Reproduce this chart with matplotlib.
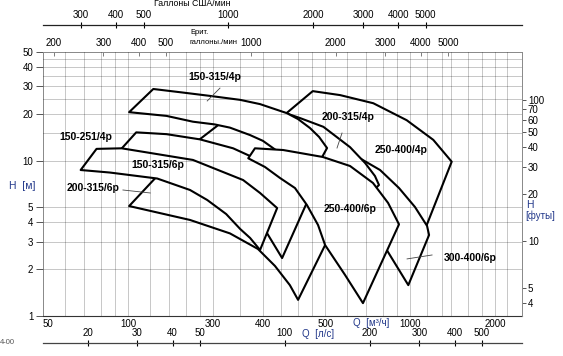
import matplotlib
matplotlib.use('Agg')
import matplotlib.pyplot as plt
from matplotlib.patches import Polygon
from matplotlib.ticker import NullLocator
import numpy as np

plt.rcParams['font.family'] = ['Liberation Sans', 'DejaVu Sans']

# ---------------------------------------------------------------
# Pump fields, Q [m3/h] and H [m] outlines (listed back to front)
# ---------------------------------------------------------------
q_250_400_4p = [452, 565, 741, 973, 1209, 1405, 1146, 1041, 783, 565, 407, 332]
h_250_400_4p = [28.0, 26.4, 23.4, 18.2, 13.6, 9.84, 3.85, 2.66, 5.58, 10.1, 14.6, 17.5]

q_300_400_6p = [588, 649, 783, 914, 1041, 1149, 1168, 986, 827, 751, 665, 565, 520]
h_300_400_6p = [11.2, 10.6, 8.70, 6.66, 5.03, 3.80, 3.32, 1.58, 2.66, 3.47, 4.47, 6.0, 9.37]

q_200_315_4p = [260, 306, 366, 407, 493, 613, 693, 751, 776, 745, 638, 565, 407, 271, 173]
h_200_315_4p = [23.0, 21.8, 20.1, 18.8, 16.5, 12.2, 9.65, 7.96, 6.97, 6.47, 3.32, 4.47, 6.66, 10.4, 13.0]

q_200_315_6p = [131, 195, 294, 375, 480, 542, 401, 375, 332, 289, 230, 166, 101]
h_200_315_6p = [8.45, 6.97, 5.58, 6.0, 5.18, 3.85, 1.27, 1.58, 2.10, 2.70, 3.40, 4.15, 5.10]

q_150_251_4p = [107, 137, 180, 236, 271, 319, 375, 435, 352, 311, 294, 230, 153, 89.9]
h_150_251_4p = [15.2, 14.8, 13.7, 12.0, 10.7, 9.23, 7.50, 5.58, 2.36, 3.42, 4.47, 6.97, 9.37, 10.7]

q_150_315_4p = [123, 157, 195, 250, 294, 366, 401, 442, 476, 508, 488, 442, 360, 332,
                301, 271, 230, 203, 170, 137, 101]
h_150_315_4p = [28.9, 27.4, 26.1, 24.6, 23.1, 20.2, 18.5, 16.2, 14.2, 12.05, 10.55, 8.08, 10.1, 11.8,
                13.4, 14.6, 16.3, 17.1, 17.8, 19.4, 20.5]

q_150_315_6p = [77.4, 95.0, 113, 170, 256, 294, 338, 294, 271, 250, 223, 191, 166, 127, 86.3, 68.0]
h_150_315_6p = [11.9, 12.0, 11.4, 10.1, 7.50, 6.19, 4.95, 2.66, 3.18, 3.63, 4.53, 5.58, 6.47, 7.67, 8.38, 8.70]

q_250_400_6p = [282, 355, 491, 613, 739, 836, 914, 681, 588, 500, 472, 431, 391, 346, 306, 267]
h_250_400_6p = [12.0, 11.7, 10.55, 9.23, 7.18, 5.34, 3.89, 1.21, 1.84, 2.86, 3.85, 5.18, 6.66, 7.73, 9.10, 10.35]

# labels: text, Q, H
pump_names = ['150-315/4p', '150-251/4p', '150-315/6p', '200-315/6p',
              '200-315/4p', '250-400/4p', '250-400/6p', '300-400/6p']
name_q = [203, 71, 128, 75, 603, 929, 613, 1632]
name_h = [34.5, 14.2, 9.37, 6.66, 19.1, 11.7, 4.88, 2.36]

# leader lines (from, to)
lead_q = [(212, 191), (574, 551), (1197, 976), (96, 120)]
lead_h = [(29.3, 24.2), (15.05, 12.05), (2.47, 2.33), (6.47, 6.19)]

# axis scales
q_ticks = [50, 100, 200, 300, 500, 1000, 2000]
q_tick_text = ['50', '100', '300', '400', '500', '1000', '2000']
h_ticks = [1, 2, 3, 4, 5, 10, 20, 30, 40, 50]
ft_ticks = [4, 5, 10, 20, 30, 40, 50, 60, 70, 80]
ft_tick_text = ['4', '5', '10', '20', '30', '40', '50', '60', '70', '100']
us_gpm_ticks = [300, 400, 500, 1000, 2000, 3000, 4000, 5000]
imp_gpm_ticks = [200, 300, 400, 500, 1000, 2000, 3000, 4000, 5000]
ls_ticks = [20, 30, 40, 50, 100, 200, 300, 400, 500]

grid_q = [60, 70, 80, 90, 100, 120, 140, 160, 180, 200, 250, 300, 350, 400, 450, 500,
          600, 700, 800, 900, 1000, 1150, 1300, 1400, 1600, 1800, 2000, 2200]
grid_h = [2, 3, 4, 5, 10, 15, 20, 25, 30, 35, 40, 45]

US = 4.402868    # US gpm per m3/h
IMP = 3.666154   # imp gpm per m3/h
LS = 1 / 3.6     # l/s per m3/h
FT = 3.28084     # ft per m

BLUE = '#22388a'

# ==================================================================
fig = plt.figure(figsize=(5.63, 3.56), dpi=100)
L, W = 43 / 563, 479.3 / 563
ax = fig.add_axes([L, 40 / 356, W, 264 / 356])
ax.set_xscale('log')
ax.set_yscale('log')
ax.set_xlim(50, 2500)
ax.set_ylim(1, 50)

fields = [(q_250_400_4p, h_250_400_4p), (q_300_400_6p, h_300_400_6p),
          (q_200_315_4p, h_200_315_4p), (q_200_315_6p, h_200_315_6p),
          (q_150_251_4p, h_150_251_4p), (q_150_315_4p, h_150_315_4p),
          (q_150_315_6p, h_150_315_6p), (q_250_400_6p, h_250_400_6p)]
for i, (q, h) in enumerate(fields):
    ax.add_patch(Polygon(np.column_stack([q, h]), closed=True, facecolor='white',
                         edgecolor='black', lw=1.5, joinstyle='round', zorder=3 + i))

# grid over the fields (transparent black so it vanishes on the outlines)
for q in grid_q:
    ax.axvline(q, color='black', alpha=0.28, lw=0.55, zorder=20)
for h in grid_h:
    ax.axhline(h, color='black', alpha=0.28, lw=0.55, zorder=20)

for name, q, h in zip(pump_names, name_q, name_h):
    ax.text(q, h, name, ha='center', va='center', fontsize=7.5, fontweight='bold', zorder=30)
for q, h in zip(lead_q, lead_h):
    ax.plot(q, h, color='#444444', lw=0.6, zorder=25)

ax.set_xticks(q_ticks)
ax.set_xticklabels(q_tick_text)
ax.set_yticks(h_ticks)
ax.set_yticklabels([str(v) for v in h_ticks])
ax.xaxis.set_minor_locator(NullLocator())
ax.yaxis.set_minor_locator(NullLocator())
ax.tick_params(axis='x', length=0, pad=2, labelsize=7)
ax.tick_params(axis='y', length=5, width=0.7, color='#555555', pad=2, labelsize=7)
ax.get_xticklabels()[0].set_horizontalalignment('left')
for s in ['left', 'top']:
    ax.spines[s].set_color('#888888')
    ax.spines[s].set_linewidth(0.7)
ax.spines['bottom'].set_color('#333333')
ax.spines['bottom'].set_linewidth(0.8)
ax.spines['right'].set_visible(False)

# right axis in feet
ax_ft = ax.twinx()
ax_ft.set_yscale('log')
ax_ft.set_ylim(1, 50)
ax_ft.set_yticks([f / FT for f in ft_ticks])
ax_ft.set_yticklabels(ft_tick_text)
ax_ft.yaxis.set_minor_locator(NullLocator())
ax_ft.tick_params(axis='y', length=3, width=0.7, color='#555555', pad=1, labelsize=7)
for s in ['left', 'top', 'bottom']:
    ax_ft.spines[s].set_visible(False)
ax_ft.spines['right'].set_color('#888888')
ax_ft.spines['right'].set_linewidth(0.7)

# imperial gallons on the top edge
sec = ax.secondary_xaxis('top', functions=(lambda q: q * IMP, lambda g: g / IMP))
sec.set_xticks(imp_gpm_ticks)
sec.set_xticklabels([str(v) for v in imp_gpm_ticks])
sec.xaxis.set_minor_locator(NullLocator())
sec.tick_params(axis='x', direction='in', length=3, width=0.6, color='#666666', pad=3, labelsize=7)
sec.spines['top'].set_visible(False)

# US gallons scale line
ax_us = fig.add_axes([L, 1 - 25 / 356, W, 1e-4])
ax_us.set_xscale('log')
ax_us.set_xlim(50 * US, 2500 * US)
ax_us.patch.set_visible(False)
for s in ['left', 'right', 'bottom']:
    ax_us.spines[s].set_visible(False)
ax_us.spines['top'].set_color('#222222')
ax_us.spines['top'].set_linewidth(0.9)
ax_us.set_yticks([])
ax_us.xaxis.tick_top()
ax_us.set_xticks(us_gpm_ticks)
ax_us.set_xticklabels([str(v) for v in us_gpm_ticks])
ax_us.xaxis.set_minor_locator(NullLocator())
ax_us.tick_params(axis='x', direction='inout', length=5, width=0.8, pad=1, labelsize=7)

# l/s scale line
ax_ls = fig.add_axes([L, 13 / 356, W, 1e-4])
ax_ls.set_xscale('log')
ax_ls.set_xlim(50 * LS, 2500 * LS)
ax_ls.patch.set_visible(False)
for s in ['left', 'right', 'bottom']:
    ax_ls.spines[s].set_visible(False)
ax_ls.spines['top'].set_color('#444444')
ax_ls.spines['top'].set_linewidth(0.9)
ax_ls.set_yticks([])
ax_ls.xaxis.tick_top()
ax_ls.set_xticks(ls_ticks)
ax_ls.set_xticklabels([str(v) for v in ls_ticks])
ax_ls.xaxis.set_minor_locator(NullLocator())
ax_ls.tick_params(axis='x', direction='inout', length=5, width=0.8, pad=1, labelsize=7)

# axis titles
fig.text(192 / 563, 1 - 4 / 356, 'Галлоны США/мин', ha='center', va='center', fontsize=6.3)
fig.text(190 / 563, 1 - 33 / 356, 'Брит.', ha='left', va='center', fontsize=5.5)
fig.text(190 / 563, 1 - 43 / 356, 'галлоны./мин', ha='left', va='center', fontsize=5.5)
fig.text(371 / 563, 1 - 323.5 / 356, 'Q  [м³/ч]', ha='center', va='center', fontsize=7, color=BLUE)
fig.text(318 / 563, 1 - 334 / 356, 'Q  [л/с]', ha='center', va='center', fontsize=7, color=BLUE)
fig.text(22 / 563, 1 - 186 / 356, 'H  [м]', ha='center', va='center', fontsize=7.5, color=BLUE)
fig.text(526 / 563, 1 - 205 / 356, 'H', ha='left', va='center', fontsize=7.5, color=BLUE)
fig.text(525 / 563, 1 - 215.5 / 356, '[футы]', ha='left', va='center', fontsize=7, color=BLUE)
fig.text(0, 1 - 343 / 356, '4-00', ha='left', va='center', fontsize=5.5, color='#555555')

fig.savefig('out.png', dpi=100)
